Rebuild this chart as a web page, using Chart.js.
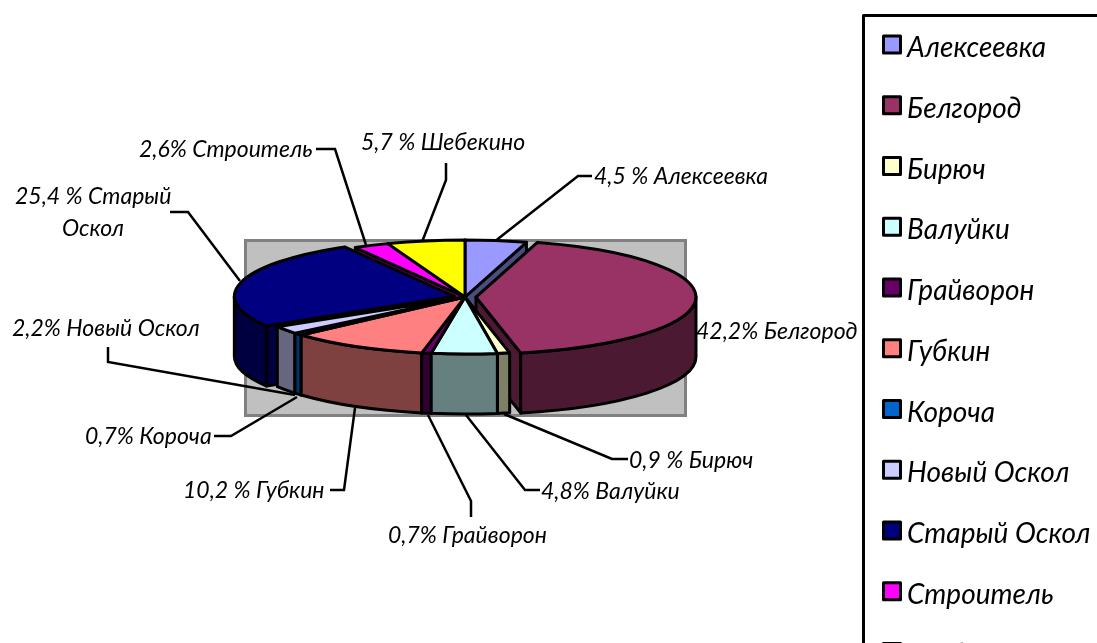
<!DOCTYPE html>
<html><head><meta charset="utf-8">
<style>html,body{margin:0;padding:0;background:#fff;overflow:hidden}canvas{display:block}</style>
<script src="https://cdn.jsdelivr.net/npm/chart.js@4/dist/chart.umd.js"></script>
</head><body>
<canvas id="c" width="1097" height="643"></canvas>
<script>
const categories = ['Алексеевка','Белгород','Бирюч','Валуйки','Грайворон','Губкин','Короча','Новый Оскол','Старый Оскол','Строитель','Шебекино'];
const values = [4.5,42.2,0.9,4.8,0.7,10.2,0.7,2.2,25.4,2.6,5.7];
const colors = ['#9999FF','#993366','#FFFFCC','#CCFFFF','#660066','#FF8080','#0066CC','#CCCCFF','#000080','#FF00FF','#FFFF00'];
const explode = [0,11,0,0,0,0,0,0,11,0,0];
const dataLabels = [['4,5 % Алексеевка'],['42,2% Белгород'],['0,9 % Бирюч'],['4,8% Валуйки'],['0,7% Грайворон'],['10,2 % Губкин'],['0,7% Короча'],['2,2% Новый Оскол'],['25,4 % Старый','Оскол'],['2,6% Строитель'],['5,7 % Шебекино']];
// label layout: text anchors [x, y] per line, and leader polylines
const labelAnchors = [[[594,177]],[[696,332]],[[629,461]],[[541,492]],[[388,536]],[[183,491]],[[85,437]],[[12,329]],[[15,197],[62,229]],[[139,150]],[[361,143]]];
const leaders = [[[494,242],[578,176],[592,176]],null,[[504,414],[612,459],[628,459]],[[466,415],[525,490],[540,490]],[[428,415],[471,501],[471,517]],[[355,408],[344,490],[330,490]],[[297,397],[231,436],[214,436]],[[108,347],[108,362],[295,395]],[[170,212],[188,212],[240,281]],[[316,149],[335,149],[366,245]],[[446,163],[446,180],[422,242]]];
const SQUASH = 57/220, DEPTH = 60, LABEL_FONT = 'italic 23px Lato, "Open Sans", sans-serif', LEGEND_FONT = 'italic 28px Lato, "Open Sans", sans-serif';

function shade(hex){const n=parseInt(hex.slice(1),16);return `rgb(${(n>>16)>>1},${((n>>8)&255)>>1},${(n&255)>>1})`;}

const pie3d = {
  id:'pie3d',
  beforeDatasetsDraw(chart){
    const ctx=chart.ctx, arcs=chart.getDatasetMeta(0).data;
    const items=arcs.map((el,i)=>{
      const mid=(el.startAngle+el.endAngle)/2, off=explode[i];
      return {i,el,mid,cx:el.x+Math.cos(mid)*off,cy:el.y+Math.sin(mid)*off*SQUASH,r:el.outerRadius,a:el.startAngle,b:el.endAngle};
    });
    // gray plot backdrop
    ctx.save();
    ctx.fillStyle='#C0C0C0';ctx.strokeStyle='#808080';ctx.lineWidth=3;
    ctx.fillRect(245.5,240.5,440,175);ctx.strokeRect(245.5,240.5,440,175);
    // leaders sit under the pie
    ctx.strokeStyle='#000';ctx.lineWidth=2.5;ctx.lineJoin='miter';
    leaders.forEach(l=>{if(!l)return;ctx.beginPath();l.forEach((p,k)=>k?ctx.lineTo(p[0],p[1]):ctx.moveTo(p[0],p[1]));ctx.stroke();});
    ctx.lineJoin='round';ctx.lineWidth=3;
    const face=(it,ang)=>{
      const x=it.cx+it.r*Math.cos(ang),y=it.cy+it.r*SQUASH*Math.sin(ang);
      ctx.beginPath();ctx.moveTo(it.cx,it.cy);ctx.lineTo(x,y);ctx.lineTo(x,y+DEPTH);ctx.lineTo(it.cx,it.cy+DEPTH);ctx.closePath();ctx.fill();ctx.stroke();
    };
    items.slice().sort((p,q)=>Math.sin(p.mid)-Math.sin(q.mid)).forEach(it=>{
      ctx.fillStyle=shade(colors[it.i]);
      if(Math.cos(it.a)<0)face(it,it.a);
      if(Math.cos(it.b)>0)face(it,it.b);
      const a1=Math.max(it.a,0),a2=Math.min(it.b,Math.PI);
      if(a1<a2){
        ctx.beginPath();
        ctx.ellipse(it.cx,it.cy,it.r,it.r*SQUASH,0,a1,a2);
        ctx.ellipse(it.cx,it.cy+DEPTH,it.r,it.r*SQUASH,0,a2,a1,true);
        ctx.closePath();ctx.fill();ctx.stroke();
      }
    });
    items.forEach(it=>{
      ctx.fillStyle=colors[it.i];
      ctx.beginPath();ctx.moveTo(it.cx,it.cy);
      ctx.ellipse(it.cx,it.cy,it.r,it.r*SQUASH,0,it.a,it.b);
      ctx.closePath();ctx.fill();ctx.stroke();
    });
    // labels
    ctx.fillStyle='#000';ctx.font=LABEL_FONT;ctx.textAlign='left';ctx.textBaseline='middle';
    dataLabels.forEach((lines,i)=>lines.forEach((t,k)=>ctx.fillText(t,labelAnchors[i][k][0],labelAnchors[i][k][1])));
    // legend
    ctx.strokeStyle='#000';ctx.lineWidth=3;ctx.beginPath();ctx.moveTo(863.5,650);ctx.lineTo(863.5,15.5);ctx.lineTo(1100,15.5);ctx.stroke();
    ctx.font=LEGEND_FONT;ctx.lineWidth=3;
    categories.forEach((c,i)=>{
      const y=44.5+60.75*i;
      ctx.fillStyle=colors[i];ctx.fillRect(883.5,y-8.5,17,17);ctx.strokeRect(883.5,y-8.5,17,17);
      ctx.fillStyle='#000';ctx.fillText(c,907,y+3.5);
    });
    ctx.restore();
    return false;
  }
};

new Chart(document.getElementById('c'),{
  type:'pie',
  data:{labels:categories,datasets:[{data:values,backgroundColor:colors,borderColor:'#000',borderWidth:2}]},
  options:{
    responsive:false,animation:false,events:[],radius:220,
    layout:{padding:{left:0,top:0,right:167,bottom:49}},
    plugins:{legend:{display:false},tooltip:{enabled:false},title:{display:false}}
  },
  plugins:[pie3d]
});
</script>
</body></html>
